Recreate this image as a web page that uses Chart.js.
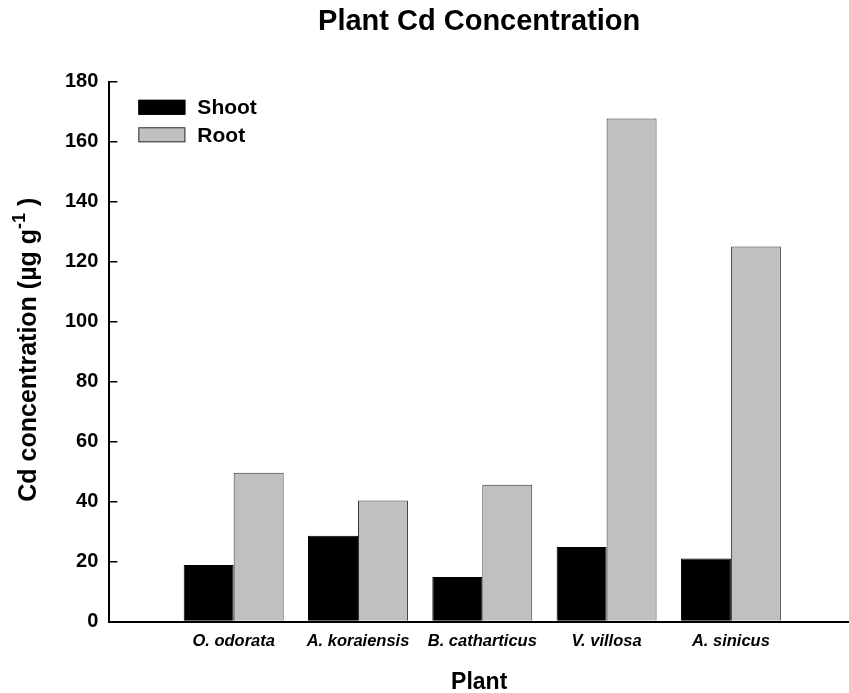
<!DOCTYPE html>
<html>
<head>
<meta charset="utf-8">
<title>Plant Cd Concentration</title>
<script src="https://cdn.jsdelivr.net/npm/chart.js@4/dist/chart.umd.min.js"></script>
<style>
  html, body { margin: 0; padding: 0; background: #fff; }
  #wrap { width: 849px; height: 693px; position: relative; }
</style>
</head>
<body>
<div id="wrap"><canvas id="cdChart"></canvas></div>
<script>
const plants = ["O. odorata", "A. koraiensis", "B. catharticus", "V. villosa", "A. sinicus"];
const shootCd = [18.9, 28.6, 14.9, 24.9, 21.0];
const rootCd = [49.6, 40.4, 45.6, 167.8, 125.1];
const yTicks = [0, 20, 40, 60, 80, 100, 120, 140, 160, 180];

const fontFamily = "'Liberation Sans', Arial, Helvetica, sans-serif";

// plants sit at x = 1..5 on a linear axis, leaving an empty slot on the left
const toPoints = (values) => values.map((v, i) => ({ x: i + 1, y: v }));

// legend drawn inside the plot, top left
const insideLegend = {
  id: "insideLegend",
  afterDatasetsDraw(chart, args, opts) {
    const { ctx, chartArea } = chart;
    ctx.save();
    ctx.font = "bold 21px " + fontFamily;
    ctx.textBaseline = "middle";
    ctx.textAlign = "left";
    chart.data.datasets.forEach((ds, i) => {
      const x = chartArea.left + opts.offsetX;
      const y = chartArea.top + opts.offsetY + i * opts.rowGap;
      ctx.fillStyle = ds.backgroundColor;
      ctx.fillRect(x, y, opts.boxWidth, opts.boxHeight);
      ctx.strokeStyle = ds.borderColor;
      ctx.lineWidth = 1;
      ctx.strokeRect(x + 0.5, y + 0.5, opts.boxWidth - 1, opts.boxHeight - 1);
      ctx.fillStyle = "#000";
      ctx.fillText(ds.label, x + opts.boxWidth + 12, y + opts.boxHeight / 2 + 1);
    });
    ctx.restore();
  }
};

// y axis title with a superscript "-1"
const yTitle = {
  id: "yTitle",
  afterDraw(chart, args, opts) {
    const { ctx, chartArea } = chart;
    const mainFont = "bold 25px " + fontFamily;
    const supFont = "bold 18px " + fontFamily;
    const parts = [
      { text: "Cd concentration (\u00b5g g", font: mainFont, rise: 0 },
      { text: "-1", font: supFont, rise: 11 },
      { text: " )", font: mainFont, rise: 0 }
    ];
    ctx.save();
    let total = 0;
    parts.forEach(p => { ctx.font = p.font; p.w = ctx.measureText(p.text).width; total += p.w; });
    const cy = (chartArea.top + chartArea.bottom) / 2 + opts.shift;
    ctx.translate(opts.x, cy);
    ctx.rotate(-Math.PI / 2);
    ctx.fillStyle = "#000";
    ctx.textBaseline = "alphabetic";
    ctx.textAlign = "left";
    let x = -total / 2;
    parts.forEach(p => {
      ctx.font = p.font;
      ctx.fillText(p.text, x, -p.rise);
      x += p.w;
    });
    ctx.restore();
  }
};

const ctx = document.getElementById("cdChart");

new Chart(ctx, {
  type: "bar",
  data: {
    datasets: [
      {
        label: "Shoot",
        data: toPoints(shootCd),
        backgroundColor: "#000000",
        borderColor: "#000000",
        borderWidth: 1
      },
      {
        label: "Root",
        data: toPoints(rootCd),
        backgroundColor: "#c0c0c0",
        borderColor: "#333333",
        borderWidth: 1
      }
    ]
  },
  plugins: [insideLegend, yTitle],
  options: {
    responsive: true,
    maintainAspectRatio: false,
    animation: false,
    categoryPercentage: 0.804,
    barPercentage: 1.0,
    layout: { padding: { left: 46, right: 0, top: 0, bottom: 0 } },
    plugins: {
      legend: { display: false },
      tooltip: { enabled: false },
      title: {
        display: true,
        fullSize: false,
        text: "Plant Cd Concentration",
        color: "#000",
        font: { family: fontFamily, size: 29, weight: "bold" },
        padding: { top: 5, bottom: 42 }
      },
      insideLegend: { offsetX: 29, offsetY: 18, rowGap: 27.5, boxWidth: 47, boxHeight: 15 },
      yTitle: { x: 36, shift: -2 }
    },
    scales: {
      x: {
        type: "linear",
        min: 0,
        max: 5.95,
        offset: false,
        grid: { display: false, drawTicks: false },
        border: { display: true, color: "#000", width: 2 },
        afterBuildTicks: (axis) => {
          axis.ticks = plants.map((p, i) => ({ value: i + 1 }));
        },
        ticks: {
          autoSkip: false,
          maxRotation: 0,
          padding: 10,
          color: "#000",
          font: { family: fontFamily, size: 16.5, weight: "bold", style: "italic" },
          callback: (value) => plants[value - 1]
        },
        title: {
          display: true,
          text: "Plant",
          color: "#000",
          font: { family: fontFamily, size: 23, weight: "bold" },
          padding: { top: 7, bottom: -3 }
        }
      },
      y: {
        min: 0,
        max: 180,
        afterBuildTicks: (axis) => {
          axis.ticks = yTicks.map(v => ({ value: v }));
        },
        grid: {
          display: true,
          drawOnChartArea: false,
          drawTicks: true,
          tickLength: -8,
          color: "#000",
          lineWidth: 1.5
        },
        border: { display: true, color: "#000", width: 2 },
        ticks: {
          padding: 19,
          color: "#000",
          font: { family: fontFamily, size: 20, weight: "bold" }
        }
      }
    }
  }
});
</script>
</body>
</html>
